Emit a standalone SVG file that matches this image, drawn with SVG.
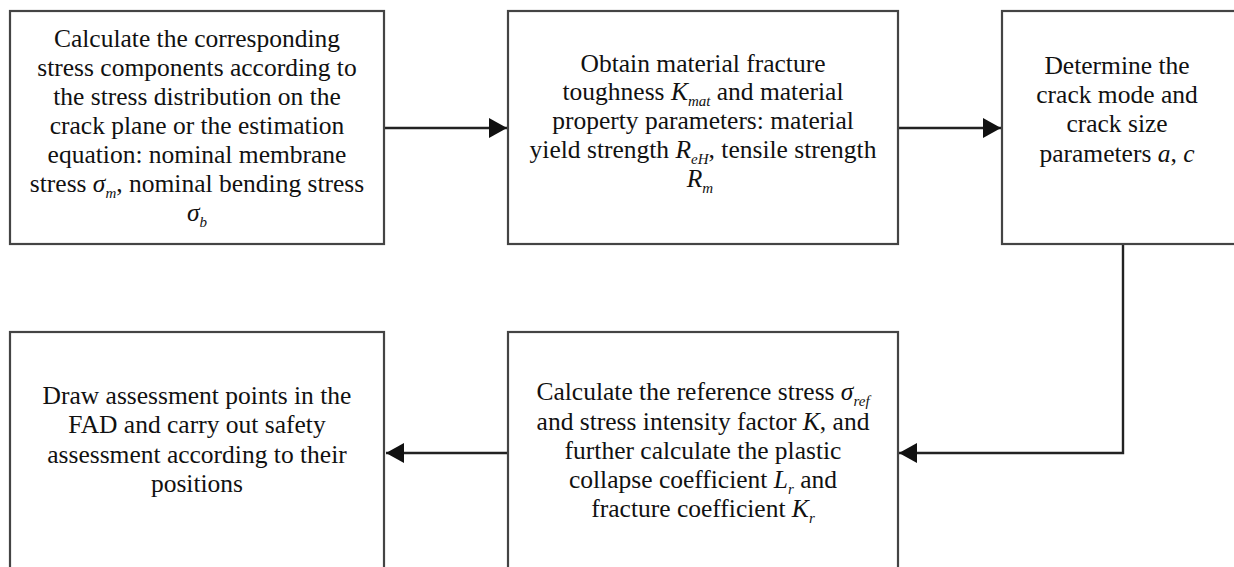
<svg xmlns="http://www.w3.org/2000/svg" width="1234" height="567" viewBox="0 0 1234 567">
<style>
.box{fill:#fff;stroke:#444;stroke-width:2.2}
.t{font-family:'Liberation Serif','DejaVu Serif',serif;font-size:25.5px;fill:#111;text-anchor:middle}
.i{font-style:italic}
.s{font-style:italic;font-size:15px}
.c{fill:none;stroke:#222;stroke-width:2.4}
</style>
<defs>
<marker id="ah" markerUnits="userSpaceOnUse" markerWidth="20" markerHeight="22" refX="18" refY="10" orient="auto">
<path d="M0,0 L18,10 L0,20 Z" fill="#111"/>
</marker>
</defs>
<rect width="1234" height="567" fill="#fff"/>
<g id="connectors">
<line class="c" x1="385" y1="128" x2="507" y2="128" marker-end="url(#ah)"/>
<line class="c" x1="899" y1="128" x2="1001" y2="128" marker-end="url(#ah)"/>
<polyline class="c" points="1123,244 1123,453 899,453" marker-end="url(#ah)"/>
<line class="c" x1="508" y1="453" x2="386" y2="453" marker-end="url(#ah)"/>
</g>
<g font-family="Liberation Serif, DejaVu Serif, serif">
<g id="node1">
<rect class="box" x="10" y="11" width="374" height="233"/>
<text class="t" x="197" y="47">Calculate the corresponding</text>
<text class="t" x="197" y="76">stress components according to</text>
<text class="t" x="197" y="105">the stress distribution on the</text>
<text class="t" x="197" y="134">crack plane or the estimation</text>
<text class="t" x="197" y="163">equation: nominal membrane</text>
<text class="t" x="197" y="192">stress <tspan class="i">σ</tspan><tspan class="s" dy="6">m</tspan><tspan dy="-6">, nominal bending stress</tspan></text>
<text class="t" x="197" y="221"><tspan class="i">σ</tspan><tspan class="s" dy="6">b</tspan></text>
</g>
<g id="node2">
<rect class="box" x="508" y="11" width="390" height="233"/>
<text class="t" x="703" y="72">Obtain material fracture</text>
<text class="t" x="703" y="100">toughness <tspan class="i">K</tspan><tspan class="s" dy="6">mat</tspan><tspan dy="-6"> and material</tspan></text>
<text class="t" x="703" y="129">property parameters: material</text>
<text class="t" x="703" y="158">yield strength <tspan class="i">R</tspan><tspan class="s" dy="6">eH</tspan><tspan dy="-6">, tensile strength</tspan></text>
<text class="t" x="700" y="187"><tspan class="i">R</tspan><tspan class="s" dy="6">m</tspan></text>
</g>
<g id="node3">
<rect class="box" x="1002" y="11" width="250" height="233"/>
<text class="t" x="1117" y="74">Determine the</text>
<text class="t" x="1117" y="103">crack mode and</text>
<text class="t" x="1117" y="132">crack size</text>
<text class="t" x="1117" y="162">parameters <tspan class="i">a</tspan>, <tspan class="i">c</tspan></text>
</g>
<g id="node4">
<rect class="box" x="10" y="332" width="374" height="250"/>
<text class="t" x="197" y="404">Draw assessment points in the</text>
<text class="t" x="197" y="433">FAD and carry out safety</text>
<text class="t" x="197" y="463">assessment according to their</text>
<text class="t" x="197" y="492">positions</text>
</g>
<g id="node5">
<rect class="box" x="508" y="332" width="390" height="250"/>
<text class="t" x="703" y="400">Calculate the reference stress <tspan class="i">σ</tspan><tspan class="s" dy="6">ref</tspan></text>
<text class="t" x="703" y="430">and stress intensity factor <tspan class="i">K</tspan>, and</text>
<text class="t" x="703" y="459">further calculate the plastic</text>
<text class="t" x="703" y="488">collapse coefficient <tspan class="i">L</tspan><tspan class="s" dy="6">r</tspan><tspan dy="-6"> and</tspan></text>
<text class="t" x="703" y="517">fracture coefficient <tspan class="i">K</tspan><tspan class="s" dy="6">r</tspan></text>
</g>
</g>
</svg>
